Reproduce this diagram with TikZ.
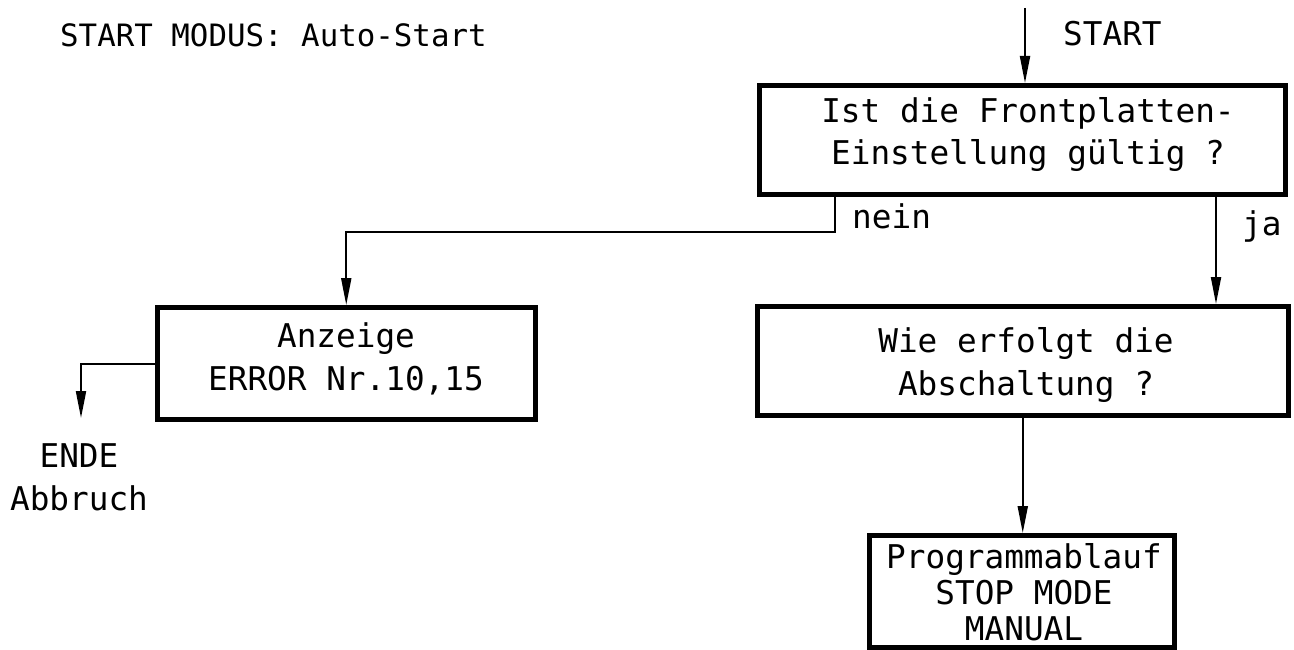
\documentclass[tikz,border=0pt]{standalone}
\usepackage{fontspec}
\newfontfamily\dinfont{DejaVu Sans Mono}
\usetikzlibrary{arrows.meta}
\begin{document}
\begin{tikzpicture}[x=1pt,y=-1pt,
  box/.style={draw=black,line width=5pt,rectangle,inner sep=0pt},
  txt/.style={font=\dinfont\fontsize{32.7}{43}\selectfont,align=center,inner sep=0pt,anchor=base},
  txtl/.style={font=\dinfont\fontsize{32.7}{43}\selectfont,inner sep=0pt,anchor=base west},
  conn/.style={draw=black,line width=2pt},
  arr/.style={conn,-{Triangle[length=27pt,width=10pt]}}]
\useasboundingbox (0,0) rectangle (1294,650);
% boxes
\node[box,minimum width=526pt,minimum height=109pt] (q1) at (1022.5,140) {};
\node[box,minimum width=530.5pt,minimum height=108.5pt] (q2) at (1022.75,360.75) {};
\node[box,minimum width=377.5pt,minimum height=112pt] (err) at (346.25,363.5) {};
\node[box,minimum width=305pt,minimum height=112pt] (prog) at (1021.5,591.5) {};
% texts (anchor base = baseline of the last line)
\node[txtl,font=\dinfont\fontsize{30.8}{43}\selectfont] (title) at (60,47) {START MODUS: Auto-Start};
\node[txtl] (startl) at (1063,46) {START};
\node[txt] (q1t) at (1028,165) {Ist die Frontplatten-\\Einstellung gültig ?};
\node[txt] (q2t) at (1026,395) {Wie erfolgt die\\Abschaltung ?};
\node[txt] (errt) at (346,390) {Anzeige\\ERROR Nr.10,15};
\node[txt,font=\dinfont\fontsize{32.7}{36}\selectfont] (progt) at (1024,640) {Programmablauf\\STOP MODE\\MANUAL};
\node[txt] (ende) at (79,510) {ENDE\\Abbruch};
\node[txtl] (nein) at (852,228) {nein};
\node[txtl] (ja) at (1242,235) {ja};
% coordinates
\coordinate (s0) at (1025,8);
\coordinate (n1) at (835,232);
\coordinate (jx) at (1216,250);
\coordinate (e1) at (81,418);
% connectors
\draw[arr] (s0) -- (s0 |- q1.north);
\draw[arr] (q1.south -| n1) -- (n1) -| (err.north);
\draw[arr] (q1.south -| jx) -- (q2.north -| jx);
\draw[arr] (q2.south) -- (q2.south |- prog.north);
\draw[arr] (err.west) -| (e1);
\end{tikzpicture}
\end{document}
